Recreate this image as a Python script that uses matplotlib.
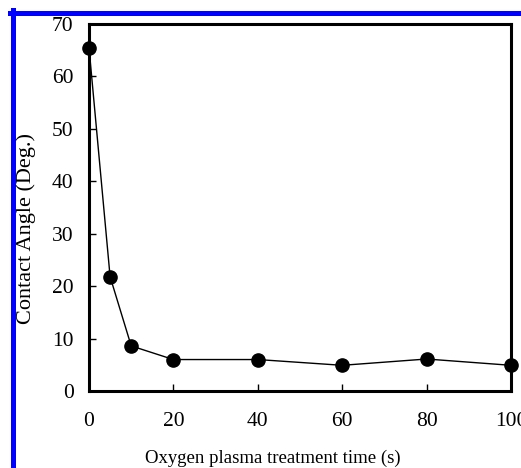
import matplotlib
matplotlib.use('Agg')
import matplotlib.pyplot as plt
from matplotlib.lines import Line2D

# treatment time (s) and measured contact angle (deg)
time_s = [0, 5, 10, 20, 40, 60, 80, 100]
angle_deg = [65.5, 21.8, 8.6, 6.0, 6.0, 4.9, 6.1, 4.9]

x_ticks = [0, 20, 40, 60, 80, 100]
y_ticks = [0, 10, 20, 30, 40, 50, 60, 70]

plt.rcParams['font.family'] = ['Liberation Serif', 'DejaVu Serif']

w, h = 521, 468
fig = plt.figure(figsize=(w / 100, h / 100), dpi=100)
ax = fig.add_axes([89 / w, 77 / h, 422 / w, 367 / h])

ax.plot(time_s, angle_deg, color='black', linewidth=1.0,
        marker='o', markersize=9.5, clip_on=False, zorder=3)

ax.set_xlim(0, 100)
ax.set_ylim(0, 70)
ax.set_xticks(x_ticks)
ax.set_yticks(y_ticks)
ax.tick_params(axis='both', direction='in', length=5, width=1, labelsize=15.5)
ax.tick_params(axis='x', pad=15)
ax.tick_params(axis='y', pad=11)
for s in ax.spines.values():
    s.set_linewidth(2.2)

# axis titles placed in figure pixels
fig.text(273 / w, 1 - 458 / h, 'Oxygen plasma treatment time (s)',
         fontsize=13.5, ha='center', va='center')
fig.text(26 / w, 1 - 228.5 / h, 'Contact Angle (Deg.)',
         fontsize=16, ha='center', va='center', rotation=90)

# blue frame lines at top and left edge
fig.add_artist(Line2D([12.5 / w, 12.5 / w], [0, 1 - 10 / h], color='#0000ff',
                      linewidth=3.6, transform=fig.transFigure))
fig.add_artist(Line2D([10 / w, 1], [1 - 12.5 / h, 1 - 12.5 / h], color='#0000ff',
                      linewidth=3.6, transform=fig.transFigure))

fig.savefig('out.png', dpi=100)
